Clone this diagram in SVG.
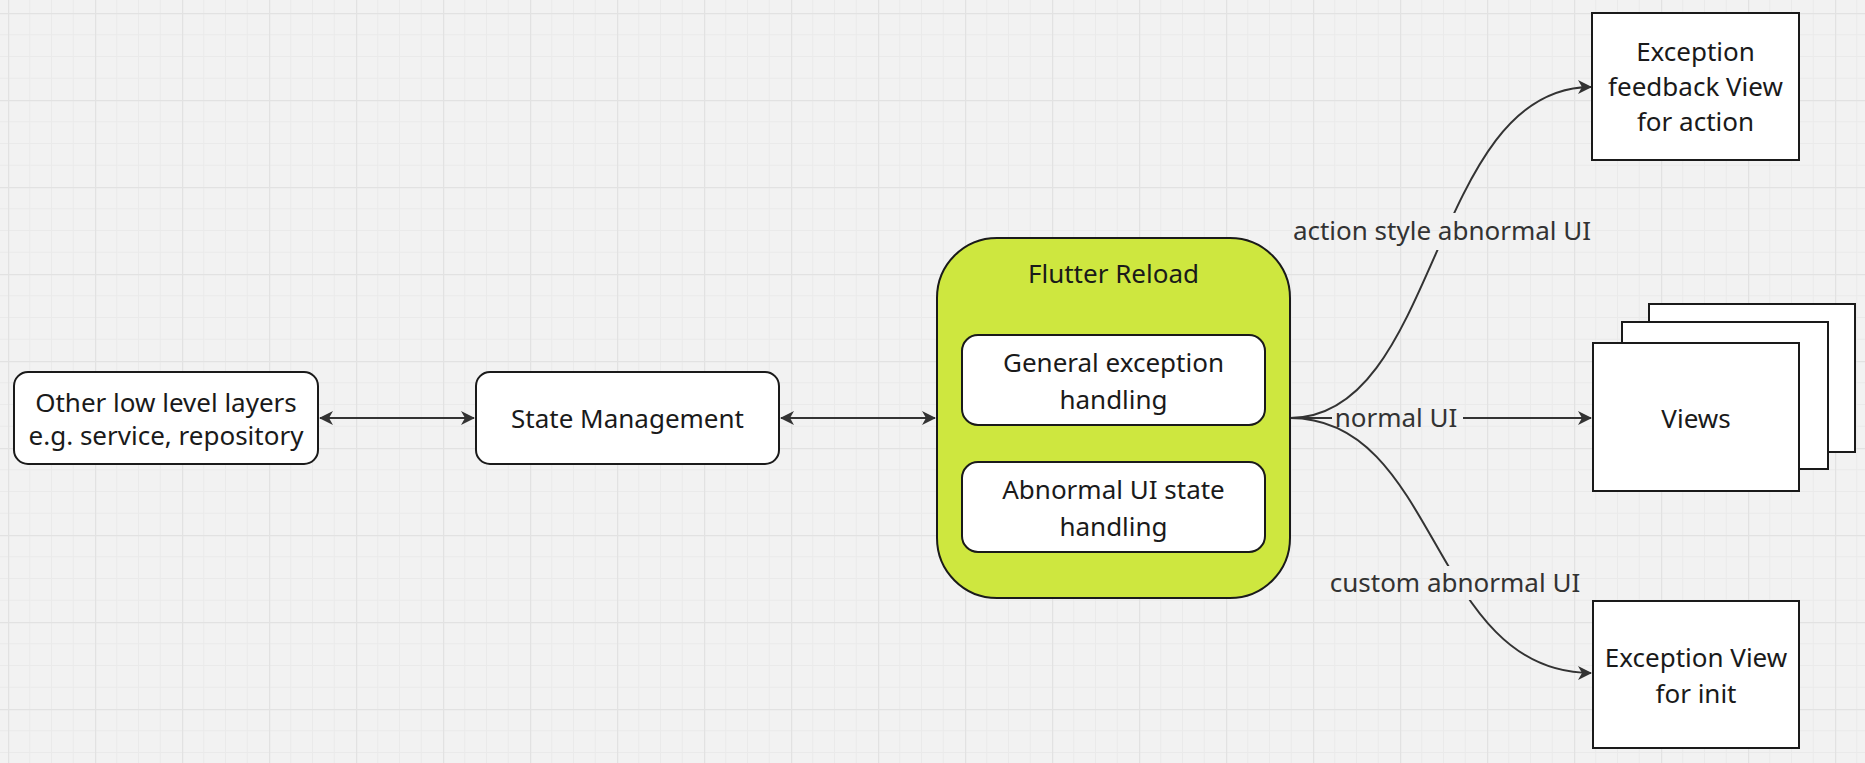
<svg xmlns="http://www.w3.org/2000/svg" width="1865" height="763" viewBox="0 0 1865 763">
<style>
text{font-family:"Noto Sans","Open Sans","DejaVu Sans",sans-serif;font-size:26px;fill:#1a1a1a;text-anchor:middle}
.lbl{fill:#333}
.box{fill:#fff;stroke:#1a1a1a;stroke-width:2}
.edge{fill:none;stroke:#333;stroke-width:2}
</style>
<defs>
<pattern id="grid" patternUnits="userSpaceOnUse" x="8" y="13" width="87" height="87">
<path d="M21.75 0V87M43.5 0V87M65.25 0V87M0 21.75H87M0 43.5H87M0 65.25H87" stroke="#eaeaea" stroke-width="1" fill="none"/>
<path d="M0.5 0V87M0 0.5H87" stroke="#e2e2e2" stroke-width="1.5" fill="none"/>
</pattern>
<marker id="ah" viewBox="0 0 14 14" refX="13" refY="7" markerWidth="14" markerHeight="14" markerUnits="userSpaceOnUse" orient="auto-start-reverse">
<path d="M0 0L14 7L0 14L4 7z" fill="#333"/>
</marker>
<mask id="m-action" maskUnits="userSpaceOnUse" x="0" y="0" width="1865" height="763">
<rect width="1865" height="763" fill="#fff"/><rect x="1288" y="213" width="310" height="37" fill="#000"/>
</mask>
<mask id="m-normal" maskUnits="userSpaceOnUse" x="0" y="0" width="1865" height="763">
<rect width="1865" height="763" fill="#fff"/><rect x="1332" y="400" width="131" height="36" fill="#000"/>
</mask>
<mask id="m-custom" maskUnits="userSpaceOnUse" x="0" y="0" width="1865" height="763">
<rect width="1865" height="763" fill="#fff"/><rect x="1325" y="566" width="260" height="34" fill="#000"/>
</mask>
</defs>
<rect width="1865" height="763" fill="#f2f2f2"/>
<rect width="1865" height="763" fill="url(#grid)"/>

<g id="connectors">
<line class="edge" x1="320" y1="418" x2="474" y2="418" marker-start="url(#ah)" marker-end="url(#ah)"/>
<line class="edge" x1="781" y1="418" x2="935" y2="418" marker-start="url(#ah)" marker-end="url(#ah)"/>
<path class="edge" d="M1290 418C1440 418 1430 87 1591 87" marker-end="url(#ah)" mask="url(#m-action)"/>
<path class="edge" d="M1290 418H1591" marker-end="url(#ah)" mask="url(#m-normal)"/>
<path class="edge" d="M1290 418C1440 418 1430 673 1591 673" marker-end="url(#ah)" mask="url(#m-custom)"/>
<text class="lbl" x="1442" y="240">action style abnormal UI</text>
<text class="lbl" x="1396" y="427">normal UI</text>
<text class="lbl" x="1455" y="592">custom abnormal UI</text>
</g>

<g id="node-lowlevel">
<rect class="box" x="14" y="372" width="304" height="92" rx="14"/>
<text x="166" y="412">Other low level layers</text>
<text x="166" y="445">e.g. service, repository</text>
</g>

<g id="node-state">
<rect class="box" x="476" y="372" width="303" height="92" rx="14"/>
<text x="627.5" y="428">State Management</text>
</g>

<g id="node-flutter-reload">
<rect x="937" y="238" width="353" height="360" rx="60" fill="#cee73f" stroke="#1a1a1a" stroke-width="2"/>
<text x="1113.5" y="283">Flutter Reload</text>
</g>

<g id="node-general">
<rect class="box" x="962" y="335" width="303" height="90" rx="16"/>
<text x="1113.5" y="372">General exception</text>
<text x="1113.5" y="409">handling</text>
</g>

<g id="node-abnormal">
<rect class="box" x="962" y="462" width="303" height="90" rx="16"/>
<text x="1113.5" y="499">Abnormal UI state</text>
<text x="1113.5" y="536">handling</text>
</g>

<g id="node-feedback">
<rect class="box" x="1592" y="13" width="207" height="147"/>
<text x="1695.5" y="61">Exception</text>
<text x="1695.5" y="96">feedback View</text>
<text x="1695.5" y="131">for action</text>
</g>

<g id="node-views">
<rect class="box" x="1649" y="304" width="206" height="148"/>
<rect class="box" x="1622" y="322" width="206" height="147"/>
<rect class="box" x="1593" y="343" width="206" height="148"/>
<text x="1696" y="428">Views</text>
</g>

<g id="node-init">
<rect class="box" x="1593" y="601" width="206" height="147"/>
<text x="1696" y="667">Exception View</text>
<text x="1696" y="703">for init</text>
</g>
</svg>
